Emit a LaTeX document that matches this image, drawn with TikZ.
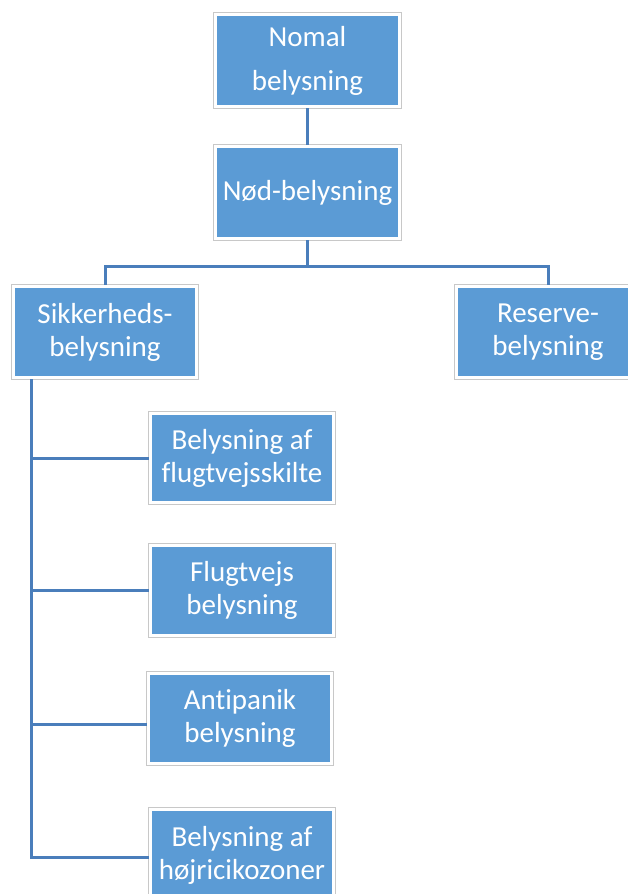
\documentclass[tikz,border=0pt]{standalone}
\usepackage{fontspec}
\setmainfont{Carlito}[Ligatures=NoCommon]
\definecolor{boxblue}{RGB}{91,155,213}
\definecolor{boxrim}{RGB}{200,200,200}
\definecolor{wire}{RGB}{74,126,187}
\begin{document}
\begin{tikzpicture}[x=1pt,y=-1pt,
  unit/.style={fill=boxblue, draw=white, line width=3pt,
    preaction={draw=boxrim, line width=5pt},
    text=white, align=center, inner sep=0pt,
    minimum width=184pt, minimum height=92pt,
    font=\fontsize{29}{33}\selectfont},
  wirestyle/.style={draw=wire, line width=3pt}]
\useasboundingbox (0,0) rectangle (627,894);

% top of the hierarchy
\node[unit, font=\fontsize{29}{44}\selectfont] (nomal) at (307.5,60.5) {Nomal\\belysning};
\node[unit] (nod) at (307.5,192.5) {Nød-belysning};

% second level
\node[unit, minimum width=183pt, minimum height=91pt] (sik) at (105,332) {Sikkerheds-\\belysning};
\node[unit, minimum height=91pt] (res) at (548,332) {Reserve-\\belysning};

% sub-items of Sikkerhedsbelysning
\node[unit, minimum width=183pt, minimum height=89pt] (b1) at (242,458) {Belysning af\\flugtvejsskilte};
\node[unit, minimum width=183pt, minimum height=90pt] (b2) at (242,590.5) {Flugtvejs\\belysning};
\node[unit, minimum width=183pt, minimum height=90pt] (b3) at (240,718.5) {Antipanik\\belysning};
\node[unit, minimum width=183pt, minimum height=92pt] (b4) at (242,855) {Belysning af\\højricikozoner};

% connectors
\coordinate (bus) at (0,266);
\coordinate (trunk) at (31,0);
\coordinate (b3in) at ([yshift=-5.5pt]b3.west);
\coordinate (b4in) at ([yshift=-2pt]b4.west);
\draw[wirestyle] (nomal) -- (nod);
\draw[wirestyle] (nod.south) -- (nod.south |- bus) -| (sik.north);
\draw[wirestyle] (nod.south |- bus) -| (res.north);
\draw[wirestyle] (sik.south -| trunk) |- (b4in);
\draw[wirestyle] (trunk |- b1.west) -- (b1.west);
\draw[wirestyle] (trunk |- b2.west) -- (b2.west);
\draw[wirestyle] (trunk |- b3in) -- (b3in);
\end{tikzpicture}
\end{document}
